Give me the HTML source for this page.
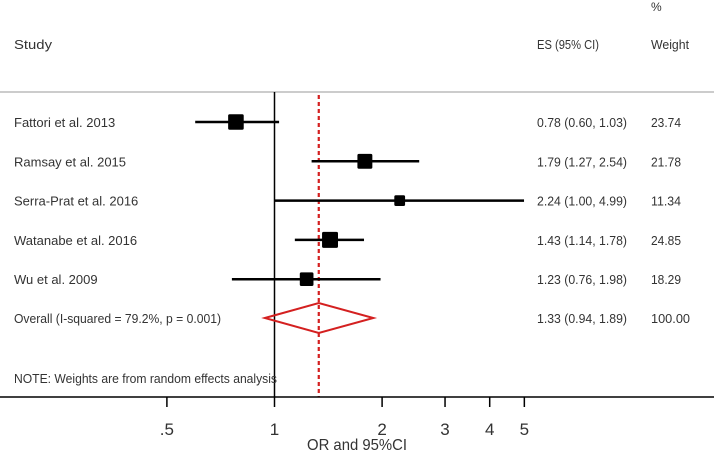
<!DOCTYPE html>
<html><head><meta charset="utf-8"><style>
html,body{margin:0;padding:0;background:#fff;}
svg{display:block;font-family:"Liberation Sans",sans-serif;}
</style></head><body>
<svg id="chart" width="714" height="451" viewBox="0 0 714 451" xmlns="http://www.w3.org/2000/svg">
<g id="header">
<text x="14" y="49" font-size="13" fill="#333" textLength="38" lengthAdjust="spacingAndGlyphs">Study</text>
<text x="537" y="49" font-size="13" fill="#333" textLength="62" lengthAdjust="spacingAndGlyphs">ES (95% CI)</text>
<text x="651" y="11" font-size="12" fill="#333">%</text>
<text x="651" y="49" font-size="13" fill="#333" textLength="38" lengthAdjust="spacingAndGlyphs">Weight</text>
</g>
<line x1="0" y1="92" x2="714" y2="92" stroke="#bbb" stroke-width="1.5"/>
<g id="plot"></g>
<text x="14" y="383" font-size="13" fill="#333" textLength="263" lengthAdjust="spacingAndGlyphs">NOTE: Weights are from random effects analysis</text>
</svg>
<script>
const studies = ["Fattori et al. 2013","Ramsay et al. 2015","Serra-Prat et al. 2016","Watanabe et al. 2016","Wu et al. 2009"];
const es = [0.78,1.79,2.24,1.43,1.23];
const lo = [0.60,1.27,1.00,1.14,0.76];
const hi = [1.03,2.54,4.99,1.78,1.98];
const weights = ["23.74","21.78","11.34","24.85","18.29"];
const overallLabel = "Overall  (I-squared = 79.2%, p = 0.001)";
const overall = [1.33,0.94,1.89];
const tickVals = [0.5,1,2,3,4,5];
const tickLabels = [".5","1","2","3","4","5"];

const NS="http://www.w3.org/2000/svg";
const g=document.getElementById('plot');
const x=v=>274.5+Math.log2(v)*107.6;
const rowY=i=>122+i*39.3;
function mk(t,a){const e=document.createElementNS(NS,t);for(const k in a)e.setAttribute(k,a[k]);g.appendChild(e);return e;}
function txt(s,xx,yy,fs,anchor){const e=mk('text',{x:xx,y:yy,'font-size':fs,fill:'#333','text-anchor':anchor||'start'});e.setAttribute('xml:space','preserve');e.textContent=s;return e;}

const yBottom=397;
let e=mk('line',{x1:x(1),y1:92,x2:x(1),y2:yBottom,stroke:'#000','stroke-width':1.5});


e=mk('line',{x1:x(overall[0]),y1:95,x2:x(overall[0]),y2:yBottom,stroke:'#d42020','stroke-width':2.2,'stroke-dasharray':'4 3'});



studies.forEach((s,i)=>{
  const y=rowY(i);
  let t=txt(s,14,y+5,13);
  
  
  let l=mk('line',{x1:x(lo[i]),y1:y,x2:x(hi[i]),y2:y,stroke:'#000','stroke-width':2.5});
  
  
  const sz=3.2*Math.sqrt(parseFloat(weights[i]));
  let r=mk('rect',{x:x(es[i])-sz/2,y:y-sz/2,width:sz,height:sz,fill:'#000',rx:1.5});
  
  
  t=txt(es[i].toFixed(2)+" ("+lo[i].toFixed(2)+", "+hi[i].toFixed(2)+")",537,y+5,13);
  
  
  t.setAttribute('textLength','90');
  t.setAttribute('lengthAdjust','spacingAndGlyphs');
  t=txt(weights[i],651,y+5,13);
  
  
  t.setAttribute('textLength','30');
  t.setAttribute('lengthAdjust','spacingAndGlyphs');
});
const oy=318;
let t=txt(overallLabel,14,oy+5,13);


t.setAttribute('textLength','207');
t.setAttribute('lengthAdjust','spacingAndGlyphs');
let d=mk('polygon',{points:`${x(overall[1])},${oy} ${x(overall[0])},${oy-15} ${x(overall[2])},${oy} ${x(overall[0])},${oy+15}`,fill:'none',stroke:'#d42020','stroke-width':2});


t=txt(overall[0].toFixed(2)+" ("+overall[1].toFixed(2)+", "+overall[2].toFixed(2)+")",537,oy+5,13);


t.setAttribute('textLength','90');
t.setAttribute('lengthAdjust','spacingAndGlyphs');
t=txt("100.00",651,oy+5,13);


t.setAttribute('textLength','39');
t.setAttribute('lengthAdjust','spacingAndGlyphs');

let ax=mk('line',{x1:0,y1:yBottom,x2:714,y2:yBottom,stroke:'#000','stroke-width':1.5});


tickVals.forEach((v,i)=>{
  let tk=mk('line',{x1:x(v),y1:yBottom,x2:x(v),y2:yBottom+10,stroke:'#000','stroke-width':1.5});
  
  
  let tl=txt(tickLabels[i],x(v),435,17,'middle');
  
  
});
t=txt("OR and 95%CI",357,450,16,'middle');


t.setAttribute('textLength','100');
t.setAttribute('lengthAdjust','spacingAndGlyphs');
</script>
</body></html>
